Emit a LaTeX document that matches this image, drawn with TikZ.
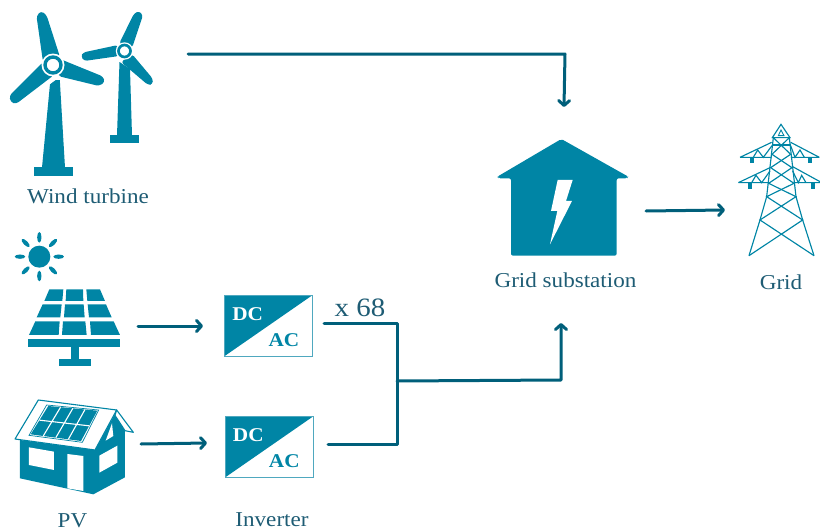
\documentclass[tikz,border=0pt]{standalone}
\usepackage{fontspec}
\setmainfont{Liberation Serif}[FakeStretch=1.09]
\usetikzlibrary{arrows.meta}
\definecolor{teal1}{HTML}{0085A5}
\definecolor{wire}{HTML}{005F7A}
\definecolor{labelc}{HTML}{1E5C74}
\definecolor{boxline}{HTML}{4FA8BF}
\tikzset{
  icon/.style={fill=teal1,draw=none},
  zoomA/.style={x=0.3333pt,y=-0.3333pt},
  wireline/.style={draw=wire,line width=3pt,line cap=round,line join=round},
  arrowline/.style={wireline,-{Straight Barb[length=5pt,width=11pt,line cap=round,line join=round]}},
  lab/.style={text=labelc,font=\fontsize{21.2}{24}\selectfont,inner sep=0pt,anchor=base},
  inv/.style={draw=boxline,line width=1pt,minimum width=88pt,minimum height=61pt,inner sep=0pt,
    path picture={\fill[teal1] (path picture bounding box.north west) -- (path picture bounding box.north east) -- (path picture bounding box.south west) -- cycle;}},
  dc/.style={text=white,font=\bfseries\fontsize{19.5}{22}\selectfont,inner sep=0pt},
  ac/.style={text=teal1,font=\bfseries\fontsize{19.5}{22}\selectfont,inner sep=0pt},
  tw/.style={draw=teal1,line width=1.15pt,line join=miter},
}
\begin{document}
\begin{tikzpicture}[x=1pt,y=-1pt]
\useasboundingbox (0,0) rectangle (820,530);

% big turbine
\fill[icon] (34,167) rectangle (73,176);
\fill[icon] (42,167.5) -- (50,84) -- (54,80) -- (59.8,80) -- (65,167.5) -- cycle;
\fill[icon,rounded corners=3pt] (36.5,16) -- (41,11) -- (46.5,15) -- (60,57) -- (43,62) -- cycle;
\fill[icon,rounded corners=3pt] (60,59) -- (103,76.5) -- (105,82) -- (99,86) -- (58,76) -- cycle;
\fill[icon,rounded corners=3pt] (43,62) -- (9.5,95.5) -- (10.5,102) -- (16,104) -- (54,75) -- cycle;
\draw[white,line width=1.2pt] (45,87) -- (60,76);
\fill[white] (53,65) circle (11.5);
\draw[teal1,line width=3.4pt] (53,65) circle (8);

% small turbine
\fill[icon] (110,135) rectangle (139,143);
\fill[icon] (117,135.5) -- (119.5,62) -- (130,69) -- (132,135.5) -- cycle;
\fill[icon,rounded corners=3pt] (134,13.5) -- (139,11) -- (143,15) -- (132,48) -- (119,44) -- cycle;
\fill[icon,rounded corners=3pt] (83,52.5) -- (118,45) -- (119,56) -- (84,61) -- (81,56.5) -- cycle;
\fill[icon,rounded corners=3pt] (132,54) -- (153,79) -- (152.5,84.5) -- (148,85) -- (121,62) -- cycle;
\fill[white] (124.5,51) circle (8.7);
\draw[teal1,line width=2.7pt] (124.5,51) circle (6);

% sun and solar panel
\begin{scope}[shift={(0,225)},zoomA]
\fill[icon] (118,95) circle (33);
\foreach \a in {0,45,...,315}
  \fill[icon,rotate around={\a:(118,95)}] (118,37) ellipse [x radius=6.5,y radius=16];
\foreach \p in {
 {(148,193) -- (190,193) -- (187,228) -- (133,228)},
 {(199,193) -- (249,193) -- (250,228) -- (197,228)},
 {(259,193) -- (300,193) -- (315,228) -- (262,228)},
 {(128,238) -- (185,238) -- (181,277) -- (110,277)},
 {(195,238) -- (251,238) -- (254,277) -- (192,277)},
 {(263,238) -- (318,238) -- (335,277) -- (267,277)},
 {(106,289) -- (179,289) -- (176,330) -- (87,330)},
 {(189,289) -- (256,289) -- (260,330) -- (186,330)},
 {(270,289) -- (341,289) -- (360,330) -- (273,330)}}
  {\fill[icon] \p -- cycle;}
\fill[icon] (85,343) rectangle (361,367);
\fill[icon] (213,367) rectangle (236,402);
\fill[icon] (176,402) rectangle (273,424);
\end{scope}

% PV house
\begin{scope}[shift={(0,390)},zoomA]
\fill[icon] (60,150) -- (285,180) -- (345,72) -- (375,115) -- (375,262) -- (280,313) -- (60,265) -- cycle;
\fill[white] (87,172) -- (162,185) -- (162,240) -- (87,225) -- cycle;
\fill[white] (202,192) -- (250,198) -- (250,303) -- (202,295) -- cycle;
\fill[white] (298,197) -- (352,167) -- (352,218) -- (298,248) -- cycle;
\fill[white] (317,152) -- (336,100) -- (340,138) -- cycle;
\filldraw[fill=white,draw=teal1,line width=1.1pt,line join=round] (115,30) -- (350,60) -- (285,180) -- (45,147) -- cycle;
\filldraw[fill=white,draw=teal1,line width=1.1pt,line join=round] (350,60) -- (400,127) -- (375,122) -- (345,76) -- cycle;
\draw[teal1,line width=0.7pt] (140,45) -- (296,60) -- (247,157) -- (87,136) -- cycle;
\fill[icon] (145,48) -- (292,62) -- (243,153) -- (92,133) -- cycle;
\draw[white,line width=1.1pt] (118.5,90.5) -- (267.5,107.5)
  (181.75,51.5) -- (129.75,138) (218.5,55) -- (167.5,143) (255,58.5) -- (205,148);
\end{scope}

% inverters
\node[inv] (invA) at (268.7,325.5) {};
\node[inv] (invB) at (269.3,446.8) {};
\node[dc] (dcA) at (247.7,314.5) {DC};
\node[ac] (acA) at (284,340) {AC};
\node[dc] (dcB) at (248.3,435.5) {DC};
\node[ac] (acB) at (284.3,461) {AC};

% substation
\begin{scope}[shift={(480,130)},zoomA]
\fill[icon,rounded corners=2pt] (244,27) -- (445,140) -- (442,145) -- (410,145) -- (410,377) -- (93,377) -- (93,145) -- (55,145) -- (52,140) -- cycle;
\fill[white] (233,150) -- (278,150) -- (258,213) -- (276,213) -- (210,343) -- (232,243) -- (213,243) -- cycle;
\end{scope}

% tower
\begin{scope}[shift={(720,115)},zoomA]
\fill[icon] (90,127) rectangle (102,143);
\fill[icon] (264,127) rectangle (276,143);
\fill[icon] (83,205) rectangle (95,221);
\fill[icon] (273,205) rectangle (285,221);
\draw[tw] (183,28) -- (157,68) -- (210,68) -- cycle;
\draw[tw,line width=0.9pt] (183,45) -- (175,62) -- (192,62) -- cycle;
\draw[tw] (160,68) -- (140,245) -- (120,315) -- (87,422);
\draw[tw] (208,68) -- (228,245) -- (248,315) -- (282,422);
\draw[tw] (158,90) -- (212,90);
\draw[tw] (160,68) -- (212,118) -- (152,158) -- (222,205) -- (140,245) -- (248,315) -- (87,422);
\draw[tw] (208,68) -- (156,118) -- (216,158) -- (146,205) -- (228,245) -- (120,315) -- (282,422);
\draw[tw] (60,127) -- (155,82) (60,127) -- (155,127);
\draw[tw] (298,127) -- (212,82) (298,127) -- (213,127);
\draw[tw] (55,203) -- (150,158) (55,203) -- (146,203);
\draw[tw] (300,200) -- (218,155) (300,203) -- (222,203);
\draw[tw] (100,127) -- (113,105) -- (130,127) -- (156,92);
\draw[tw] (253,127) -- (240,105) -- (225,127) -- (212,92);
\draw[tw] (95,203) -- (108,181) -- (125,203) -- (150,168);
\draw[tw] (258,203) -- (245,181) -- (235,203) -- (218,168);
\end{scope}

% labels
\node[lab] (windlab) at (88,203.5) {Wind turbine};
\node[lab] (pvlab) at (72.5,527) {PV};
\node[lab] (invlab) at (272,526.5) {Inverter};
\node[lab] (sublab) at (565.5,287) {Grid substation};
\node[lab] (gridlab) at (781,289) {Grid};
\node[lab,font=\fontsize{26.5}{30}\selectfont] (xlab) at (360,316) {x 68};

% connector end points
\coordinate (windout) at (188,54);
\coordinate (windcorner) at (565,54);
\coordinate (subtop) at (564,107);
\coordinate (panelout) at (138,326);
\coordinate (panelin) at (203,326);
\coordinate (houseout) at (141,444);
\coordinate (housein) at (207,443);
\coordinate (invAout) at (324,323);
\coordinate (invBout) at (328,444);
\coordinate (busA) at (397,323);
\coordinate (busB) at (397,444);
\coordinate (busmid) at (397,381);
\coordinate (buscorner) at (561,380);
\coordinate (subbottom) at (561,323);
\coordinate (subout) at (646,211);
\coordinate (gridin) at (725,210);

\draw[arrowline] (windout) -- (windcorner) -- (subtop);
\draw[arrowline] (panelout) -- (panelin);
\draw[arrowline] (houseout) -- (housein);
\draw[wireline] (invAout) -- (busA) -- (busB) -- (invBout);
\draw[arrowline] (busmid) -- (buscorner) -- (subbottom);
\draw[arrowline] (subout) -- (gridin);
\end{tikzpicture}
\end{document}
